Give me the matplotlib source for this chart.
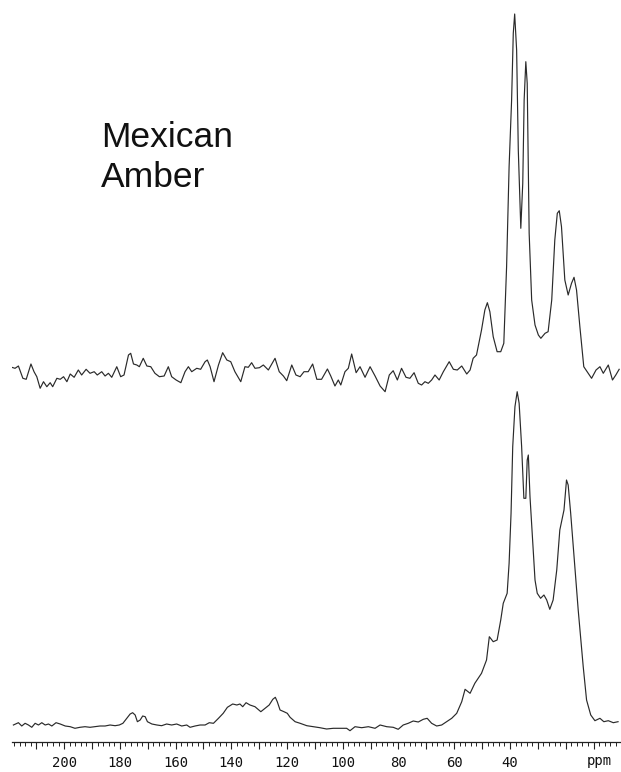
import matplotlib
matplotlib.use("Agg")
import matplotlib.pyplot as plt
from matplotlib.ticker import MultipleLocator, FuncFormatter
import matplotlib.transforms as mtransforms

# ---- data (ppm, intensity) ----
upper_ppm = [218.8, 217.6, 216.4, 214.8, 213.6, 211.9, 210.8, 209.8, 208.6, 207.4,
             206.2, 205.0, 204.1, 202.6, 201.4, 200.2, 199.0, 197.8, 196.4, 194.9,
             193.7, 192.1, 190.7, 189.2, 188.1, 186.5, 185.3, 184.1, 182.9, 181.1,
             179.7, 178.5, 176.9, 176.1, 175.1, 173.9, 173.0, 171.6, 170.3, 168.9,
             167.4, 165.8, 164.1, 162.6, 161.4, 159.8, 158.1, 156.6, 155.4, 154.2,
             152.4, 151.0, 149.4, 148.6, 147.6, 146.2, 144.6, 143.1, 141.6, 140.2,
             138.7, 136.6, 135.1, 133.9, 132.7, 131.5, 129.9, 128.5, 126.7, 124.3,
             122.8, 121.3, 120.1, 118.3, 116.8, 115.3, 113.9, 112.4, 110.8, 109.3,
             107.6, 105.5, 104.3, 102.8, 101.6, 100.7, 99.2, 98.0, 96.8, 95.2,
             93.8, 92.0, 90.2, 88.4, 86.6, 84.8, 83.3, 81.9, 80.4, 78.9,
             77.3, 75.9, 74.4, 72.9, 71.7, 70.5, 69.3, 68.1, 66.9, 65.4,
             63.9, 61.8, 60.3, 58.9, 57.3, 55.5, 54.3, 53.2, 52.0, 50.2,
             49.0, 48.1, 47.2, 46.0, 44.6, 43.3, 42.2, 41.2, 40.3, 39.4,
             38.8, 38.3, 37.6, 37.0, 36.1, 35.4, 34.9, 34.3, 33.8, 33.1,
             32.2, 31.0, 29.8, 28.9, 27.4, 26.3, 25.0, 23.9, 23.0, 22.3,
             21.5, 20.3, 19.1, 17.9, 17.0, 16.1, 14.9, 13.5, 11.9, 10.7,
             9.1, 7.7, 6.5, 4.7, 3.2, 2.0, 0.8]
upper_int = [12.7, 11.7, 14, 1.7, 0.7, 16, 8.3, 3.3, -8.3, -1.7,
             -6.7, -2.7, -6.7, 1.7, 0.7, 3.3, -1.7, 6, 2.7, 10,
             5, 10.7, 6.7, 8.3, 5, 8.3, 4, 6.7, 2.7, 13.3,
             3.3, 5, 25, 26.7, 16, 15, 13.3, 21.7, 14, 13.3,
             6.7, 3.3, 4, 13.3, 3.3, 0, -2.7, 8.3, 13.3, 8.3,
             11.7, 10.7, 18.3, 20, 13.3, -1.7, 15, 27.3, 20, 18.3,
             8.3, -1.7, 13.3, 12.7, 17.3, 11.7, 12.3, 15, 10, 21.7,
             8.3, 4, -0.7, 15, 5, 3.3, 8.3, 8.3, 16, 0.7,
             0.7, 11, 4, -6, 0, -5, 8.3, 11.7, 26, 7.3,
             13.3, 2.7, 13.3, 4, -6, -11.7, 5, 9.3, 0, 11.7,
             2.7, 1.7, 7.3, -3.3, -5, -1.7, -3.3, 0, 5, 0,
             8.3, 18.3, 10.7, 10, 14, 6, 10, 21.7, 25, 50,
             70, 77.3, 68.3, 43.3, 28.3, 28.3, 36.7, 113.3, 213.3, 280,
             346.7, 366, 330, 230, 151.7, 196.7, 280, 318.3, 296.7, 146.7,
             80, 55, 45, 41.7, 46.7, 48.3, 80, 140, 166.7, 169.3,
             153.3, 100, 85, 96.7, 102.7, 90, 53.3, 13.3, 6.7, 1.7,
             10, 13.3, 6.7, 15, 0, 5, 10.7]

lower_ppm = [218.2, 216.4, 215.2, 214.0, 212.8, 211.6, 210.4, 209.2, 208.0, 206.8,
             205.6, 204.4, 202.9, 201.4, 199.6, 197.8, 196.1, 194.3, 192.5, 190.7,
             188.9, 187.1, 185.3, 183.5, 181.7, 180.2, 178.9, 177.5, 176.3, 175.4,
             174.5, 173.7, 172.7, 171.8, 170.9, 170.1, 168.5, 166.7, 165.0, 163.2,
             161.4, 159.6, 157.8, 156.0, 154.8, 153.0, 151.2, 149.4, 147.9, 146.4,
             144.6, 142.9, 141.4, 139.5, 138.0, 136.9, 135.9, 134.7, 133.3, 131.5,
             129.4, 127.9, 126.4, 125.1, 124.2, 123.5, 122.5, 121.1, 119.9, 118.9,
             117.1, 115.3, 112.9, 110.6, 108.2, 105.8, 103.4, 101.0, 98.6, 97.4,
             95.6, 93.2, 90.8, 88.4, 86.6, 84.2, 81.9, 80.1, 78.3, 76.5,
             74.7, 72.9, 71.1, 69.7, 68.1, 66.3, 64.5, 62.7, 60.9, 59.1,
             57.3, 56.1, 54.3, 52.6, 50.2, 48.4, 47.4, 46.0, 44.6, 43.3,
             42.4, 41.0, 40.3, 39.6, 39.0, 38.2, 37.4, 36.7, 35.8, 35.0,
             34.3, 33.8, 33.4, 32.8, 32.0, 31.0, 30.2, 29.0, 27.8, 26.8,
             25.7, 24.5, 23.2, 22.1, 20.6, 19.7, 19.1, 18.2, 17.0, 15.5,
             13.7, 12.5, 11.0, 9.5, 7.7, 6.3, 4.7, 2.9, 1.2]
lower_int = [5, 7.3, 4, 6.7, 5, 2.7, 6.7, 5, 7.3, 5,
             6, 4, 7.3, 6, 4, 3.3, 1.7, 2.7, 3.3, 2.7,
             3.3, 4, 4, 5, 4.3, 5, 6.7, 11.7, 16, 17.3,
             15, 8.3, 10, 14, 13.3, 8.3, 6, 5, 4.3, 6,
             5, 6, 4, 5, 2.7, 4, 5, 5, 7.3, 6.7,
             11.7, 16.7, 22.7, 26, 25, 26, 23.3, 27.3, 25, 23.3,
             18.3, 21.7, 25, 30.7, 32.7, 28.3, 20, 18.3, 16.7, 12.7,
             8.3, 6.7, 4.3, 3.3, 2.3, 1, 1.7, 1.7, 1.7, -0.7,
             3.3, 2.3, 3.3, 1.7, 5, 3.3, 2.7, 0.7, 5, 6.7,
             9, 8, 10.7, 11.7, 6.7, 4, 5, 8.3, 11.7, 16.7,
             28.3, 40.7, 36.7, 46.7, 56.7, 70, 93.3, 88.3, 90, 110,
             126.7, 136.7, 166.7, 216.7, 283.3, 323.3, 338.3, 326.7, 283.3, 231.7,
             231.7, 270, 275, 233.3, 196.7, 150, 136.7, 131.7, 135, 130,
             120.7, 130, 160, 200, 220, 250, 245, 216.7, 173.3, 120,
             63.3, 30, 15, 9.3, 11.7, 8.3, 9.3, 7.3, 8.3]

upper_offset = 350
tick_values = [200, 180, 160, 140, 120, 100, 80, 60, 40]
title_lines = ["Mexican", "Amber"]
unit_label = "ppm"

# ---- figure ----
W, H = 621, 772
fig = plt.figure(figsize=(W / 100, H / 100), dpi=100)
ax = fig.add_axes([12 / W, 30 / H, 608 / W, 742 / H])

line_kw = dict(color="#2a2a2a", lw=0.85)
ax.plot(upper_ppm, [v + upper_offset for v in upper_int], **line_kw)
ax.plot(lower_ppm, lower_int, **line_kw)

ax.set_xlim(218.7, 0.5)
ax.set_ylim(-12, 730)

for s in ("left", "right", "top"):
    ax.spines[s].set_visible(False)
ax.spines["bottom"].set_linewidth(0.9)
ax.spines["bottom"].set_color("#222222")
ax.set_yticks([])

ax.xaxis.set_major_locator(MultipleLocator(10))
ax.xaxis.set_minor_locator(MultipleLocator(2))
ax.xaxis.set_major_formatter(
    FuncFormatter(lambda v, p: f"{int(round(v))}" if int(round(v)) in tick_values else ""))
ax.tick_params(axis="x", which="major", direction="out", length=5, width=0.8,
               color="#222222", pad=5, labelsize=10, labelcolor="#111111")
ax.tick_params(axis="x", which="minor", direction="out", length=3, width=0.7,
               color="#222222")
for lab in ax.get_xticklabels():
    lab.set_fontfamily("DejaVu Sans Mono")

trans = mtransforms.blended_transform_factory(ax.transData, fig.transFigure)
ax.text(8.1, (H - 754) / H, unit_label, transform=trans, ha="center", va="top",
        fontsize=10, family="DejaVu Sans Mono", color="#111111")

fig.text(101 / W, (H - 146.7) / H, title_lines[0], ha="left", va="baseline",
         fontsize=25.5, family="Liberation Sans", color="#111111")
fig.text(101 / W, (H - 187.3) / H, title_lines[1], ha="left", va="baseline",
         fontsize=25.5, family="Liberation Sans", color="#111111")

fig.savefig("out.png", dpi=100, facecolor="white")
